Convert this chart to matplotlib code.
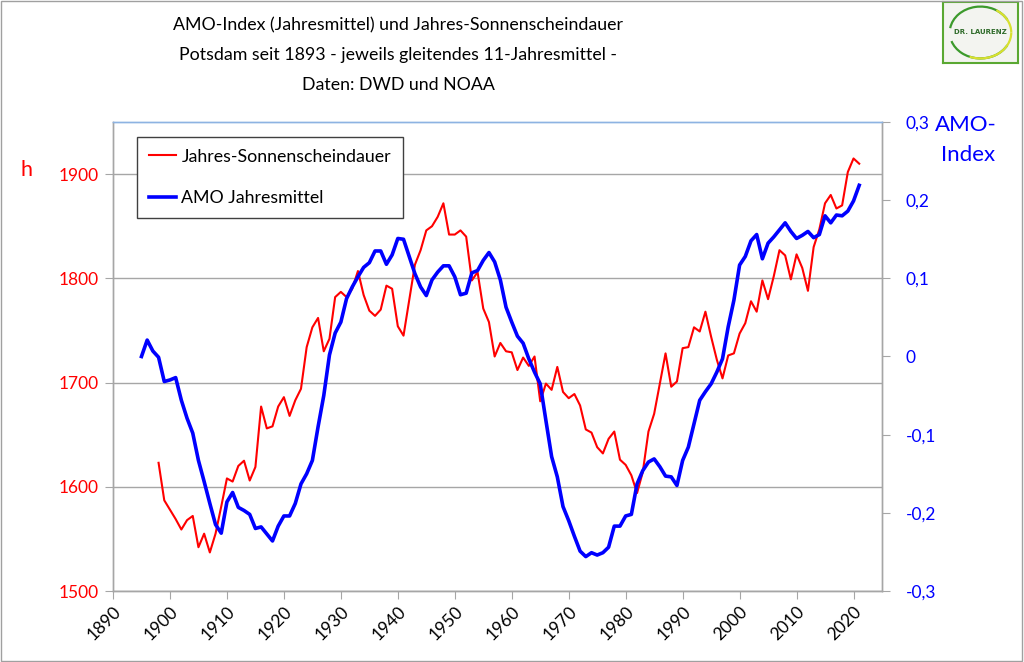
import numpy as np
import matplotlib
matplotlib.use("Agg")
import matplotlib.pyplot as plt
from matplotlib.patches import Rectangle, Arc
from matplotlib.ticker import FixedLocator, FuncFormatter

plt.rcParams['font.family'] = ['Lato', 'DejaVu Sans']

# ---------------- data ----------------
sun_start = 1898
sunshine = [1623, 1587, 1578, 1569, 1559, 1568, 1572, 1542, 1555, 1537,
            1555, 1581, 1608, 1605, 1620, 1625, 1606, 1619, 1677, 1656,
            1658, 1677, 1686, 1668, 1683, 1694, 1734, 1753, 1762, 1730,
            1742, 1782, 1787, 1782, 1790, 1807, 1784, 1769, 1764, 1770,
            1793, 1790, 1754, 1745, 1779, 1813, 1827, 1846, 1850, 1859,
            1872, 1842, 1842, 1846, 1840, 1798, 1806, 1771, 1758, 1725,
            1738, 1730, 1729, 1712, 1724, 1716, 1725, 1682, 1699, 1693,
            1715, 1691, 1685, 1689, 1678, 1655, 1652, 1638, 1632, 1646,
            1653, 1626, 1621, 1611, 1594, 1614, 1653, 1670, 1699, 1728,
            1696, 1701, 1733, 1734, 1753, 1749, 1768, 1744, 1722, 1704,
            1726, 1728, 1747, 1757, 1778, 1768, 1798, 1780, 1802, 1827,
            1822, 1799, 1823, 1810, 1788, 1830, 1847, 1872, 1880, 1867,
            1870, 1902, 1915, 1910]
sun_years = list(range(sun_start, sun_start + len(sunshine)))

amo_start = 1895
amo = [0.000, 0.021, 0.007, -0.001, -0.032, -0.030, -0.027, -0.056, -0.079, -0.098,
       -0.133, -0.160, -0.188, -0.215, -0.226, -0.186, -0.174, -0.193, -0.197, -0.202,
       -0.220, -0.218, -0.227, -0.236, -0.217, -0.204, -0.204, -0.188, -0.163, -0.150,
       -0.133, -0.090, -0.050, 0.002, 0.030, 0.044, 0.074, 0.089, 0.102, 0.114,
       0.120, 0.135, 0.135, 0.118, 0.130, 0.151, 0.150, 0.128, 0.106, 0.089,
       0.078, 0.098, 0.108, 0.116, 0.116, 0.102, 0.079, 0.081, 0.107, 0.110,
       0.123, 0.133, 0.121, 0.098, 0.063, 0.044, 0.026, 0.017, -0.003, -0.020,
       -0.035, -0.082, -0.128, -0.154, -0.192, -0.210, -0.230, -0.249, -0.256, -0.251,
       -0.254, -0.251, -0.244, -0.217, -0.217, -0.204, -0.202, -0.163, -0.146, -0.135,
       -0.131, -0.141, -0.153, -0.154, -0.165, -0.133, -0.116, -0.086, -0.056, -0.045,
       -0.035, -0.020, -0.003, 0.038, 0.072, 0.117, 0.128, 0.148, 0.156, 0.125,
       0.145, 0.153, 0.162, 0.171, 0.160, 0.151, 0.155, 0.160, 0.152, 0.156,
       0.180, 0.171, 0.181, 0.180, 0.186, 0.199, 0.219]
amo_years = list(range(amo_start, amo_start + len(amo)))

x_ticks = [1890, 1900, 1910, 1920, 1930, 1940, 1950, 1960, 1970, 1980, 1990, 2000, 2010, 2020]
left_ticks = [1500, 1600, 1700, 1800, 1900]
right_ticks = [-0.3, -0.2, -0.1, 0.0, 0.1, 0.2, 0.3]

title_lines = ["AMO-Index (Jahresmittel) und Jahres-Sonnenscheindauer",
               "Potsdam seit 1893 - jeweils gleitendes 11-Jahresmittel -",
               "Daten: DWD und NOAA"]
label_sun = "Jahres-Sonnenscheindauer"
label_amo = "AMO Jahresmittel"

RED = '#ff0000'
BLUE = '#0000ff'
GRID = '#a6a6a6'

# ---------------- figure ----------------
W, H = 1024, 662
fig = plt.figure(figsize=(W / 100, H / 100), dpi=100)
fig.patch.set_facecolor('white')

def fx(px):
    return px / W

def fy(py):
    return 1 - py / H

ax = fig.add_axes([fx(113), fy(591), fx(882) - fx(113), fy(122) - fy(591)])
ax2 = ax.twinx()

l1, = ax.plot(sun_years, sunshine, color=RED, lw=1.5, label=label_sun, zorder=3)
l2, = ax2.plot(amo_years, amo, color=BLUE, lw=2.6, label=label_amo, zorder=3)

ax.set_xlim(1890, 2025)
ax.set_ylim(1500, 1950)
ax2.set_ylim(-0.3, 0.3)

ax.xaxis.set_major_locator(FixedLocator(x_ticks))
ax.yaxis.set_major_locator(FixedLocator(left_ticks))
ax2.yaxis.set_major_locator(FixedLocator(right_ticks))

def comma_fmt(v, pos):
    if abs(v) < 1e-9:
        return "0"
    return f"{v:.1f}".replace('.', ',')

ax2.yaxis.set_major_formatter(FuncFormatter(comma_fmt))

ax.grid(axis='y', color=GRID, lw=1.0)
ax.set_axisbelow(True)

for a in (ax, ax2):
    for side in ('left', 'right', 'bottom'):
        a.spines[side].set_color(GRID)
        a.spines[side].set_linewidth(1.0)
    a.spines['top'].set_color('#8db3e2')
    a.spines['top'].set_linewidth(1.0)

ax.tick_params(axis='x', direction='out', length=6, color=GRID, labelsize=12.5,
               labelcolor='black', pad=3)
ax.tick_params(axis='y', direction='out', length=6, color=GRID, labelsize=12.5,
               labelcolor=RED, pad=4)
ax2.tick_params(axis='y', direction='out', length=6, color=GRID, labelsize=12.5,
                labelcolor=BLUE, pad=11)
for lab in ax.get_xticklabels():
    lab.set_rotation(45)
    lab.set_ha('right')
    lab.set_rotation_mode('anchor')

# axis titles
fig.text(fx(27), fy(170), "h", color=RED, fontsize=15.5, ha='center', va='center')
fig.text(fx(966), fy(125), "AMO-", color=BLUE, fontsize=16, ha='center', va='center')
fig.text(fx(968), fy(155), "Index", color=BLUE, fontsize=16, ha='center', va='center')

# title
for i, line in enumerate(title_lines):
    fig.text(fx(398), fy(25 + 30 * i), line, ha='center', va='center', fontsize=12.8,
             color='black')

# legend
leg = ax2.legend(handles=[l1, l2], loc='upper left',
                 bbox_to_anchor=(fx(137), fy(137)), bbox_transform=fig.transFigure,
                 frameon=True, fancybox=False, edgecolor='#404040', framealpha=1,
                 fontsize=12.8, handlelength=1.55, handletextpad=0.3,
                 labelspacing=1.45, borderpad=0.65, borderaxespad=0)
leg.get_frame().set_linewidth(1.0)

# logo
lax = fig.add_axes([fx(943), fy(63), fx(1018) - fx(943), fy(2) - fy(63)])
lax.set_xlim(0, 1)
lax.set_ylim(0, 1)
lax.set_xticks([])
lax.set_yticks([])
lax.set_facecolor('#f3f4f0')
for s in lax.spines.values():
    s.set_color('#5aa832')
    s.set_linewidth(1.5)
lax.add_patch(Arc((0.5, 0.5), 0.82, 0.85, theta1=30, theta2=170, color='#3c9a2c', lw=1.6))
lax.add_patch(Arc((0.5, 0.5), 0.82, 0.85, theta1=0, theta2=60, color='#d8e030', lw=1.6))
lax.add_patch(Arc((0.5, 0.5), 0.82, 0.85, theta1=200, theta2=330, color='#3c9a2c', lw=1.6))
lax.add_patch(Arc((0.5, 0.5), 0.82, 0.85, theta1=250, theta2=360, color='#d8e030', lw=1.6))
lax.text(0.5, 0.5, "DR. LAURENZ", ha='center', va='center', fontsize=5,
         color='#2f6b2a', fontweight='bold', family=['DejaVu Sans'])

# figure border
fig.patches.append(Rectangle((0.0005, 0.0008), 0.998, 0.998, transform=fig.transFigure,
                             fill=False, edgecolor='#a0a0a0', lw=1.0))

fig.savefig("out.png", dpi=100)
